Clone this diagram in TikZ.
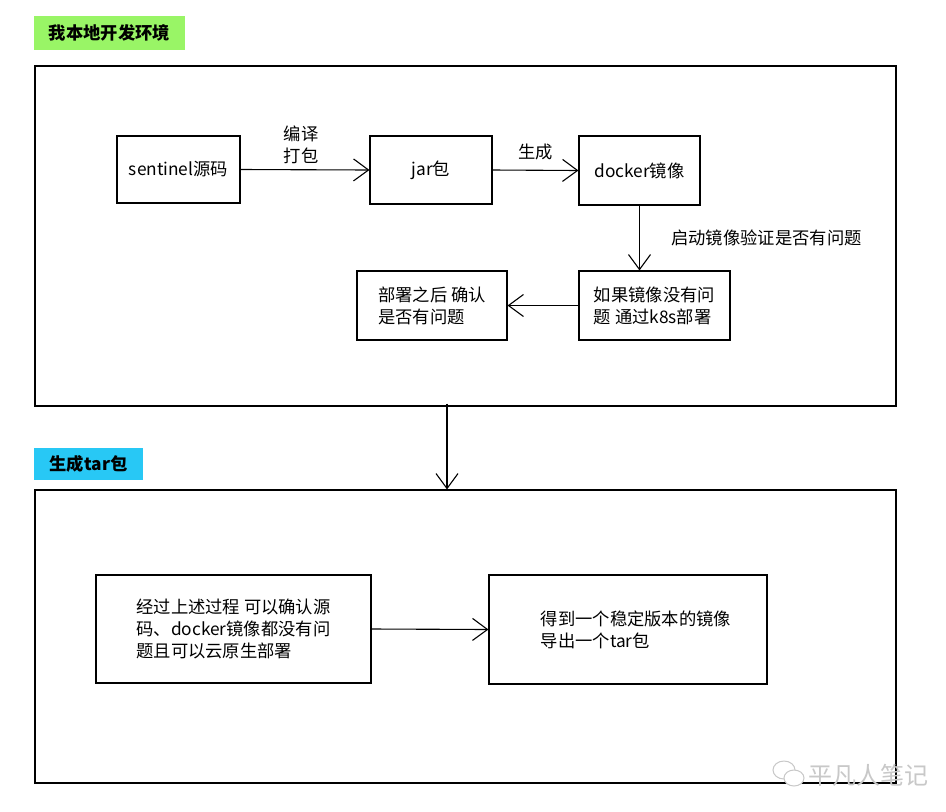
\documentclass[tikz,border=0pt]{standalone}
\usepackage{fontspec}
\setmainfont{Noto Sans CJK SC}
\usetikzlibrary{arrows.meta,calc}
\definecolor{lblgreen}{RGB}{153,245,102}
\definecolor{lblblue}{RGB}{40,200,245}
\definecolor{wmgray}{RGB}{200,200,200}
\begin{document}
\begin{tikzpicture}[x=1pt,y=-1pt,
  txt/.style={font=\fontsize{17.3}{22}\selectfont},
  box/.style={draw, line width=1.1pt, txt, align=left, inner sep=0pt},
  frame/.style={draw, line width=1.1pt, inner sep=0pt},
  lbl/.style={txt, font=\fontsize{17.3}{22}\selectfont\bfseries, inner sep=0pt},
  arr/.style={line width=1.1pt, -{Straight Barb[length=15pt,width=22pt,line width=1.1pt]}}]
\useasboundingbox[fill=white] (0,0) rectangle (946,812);
% labels
\node[lbl, fill=lblgreen, minimum width=151, minimum height=34] (lab1) at (109.5,33) {我本地开发环境};
\node[lbl, fill=lblblue, minimum width=109, minimum height=32] (lab2) at (88.5,464) {生成tar包};
% frames
\node[frame, minimum width=861, minimum height=340] (f1) at (465.5,236) {};
\node[frame, minimum width=861, minimum height=293] (f2) at (465.5,636.5) {};
% top boxes
\node[box, minimum width=123, minimum height=67] (src) at (178.5,169.5) {sentinel源码};
\node[box, minimum width=122, minimum height=68] (jar) at (431,170) {jar包};
\node[box, minimum width=121, minimum height=69] (dock) at (639.5,170.5) {docker镜像};
\node[box, minimum width=151, minimum height=69] (k8s) at (654.5,305.5) {如果镜像没有问\\题 通过k8s部署};
\node[box, minimum width=150, minimum height=69] (chk) at (432,305.5) {部署之后 确认\\是否有问题};
% bottom boxes
\node[box, minimum width=275, minimum height=108] (sum) at (233.5,629) {经过上述过程 可以确认源\\码、docker镜像都没有问\\题且可以云原生部署};
\node[box, minimum width=278, minimum height=109] (tar) at (628,629.5) {\hspace*{16pt}得到一个稳定版本的镜像\\\hspace*{16pt}导出一个tar包};
% connectors
\draw[arr] (src.east) -- node[txt, above=2pt, xshift=-4pt, align=left] (l1) {编译\\打包} (jar.west);
\draw[arr] (jar.east) -- node[txt, above=6pt] (l2) {生成} (dock.west);
\draw[arr] (dock.south) -- node[txt, right=28pt] (l3) {启动镜像验证是否有问题} (dock.south |- k8s.north);
\draw[arr] (k8s.west) -- (chk.east);
\draw[arr] ([xshift=-18.5pt,yshift=3pt]f1.south) -- ([xshift=-18.5pt]f1.south |- f2.north);
\draw[arr] (sum.east) -- (tar.west);
% watermark
\node[font=\fontsize{24}{26}\selectfont, text=wmgray, anchor=west, inner sep=0pt] (wm) at (808,775) {平凡人笔记};
\draw[wmgray, line width=1pt] (784,770) ellipse [x radius=11, y radius=9];
\draw[wmgray, line width=1pt, fill=white] (794,778) ellipse [x radius=10, y radius=8];
\end{tikzpicture}
\end{document}
